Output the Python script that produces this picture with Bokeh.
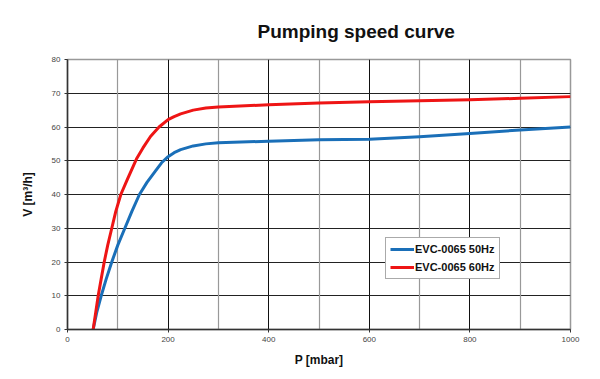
from bokeh.plotting import figure
from bokeh.models import (Range1d, FixedTicker, Grid, Legend, LegendItem, Title)
from bokeh.embed import file_html
from bokeh.resources import INLINE

# Data
p_50 = [51, 58, 67, 77, 88, 100, 114, 128, 143, 158, 175, 187, 200, 212, 225, 250, 275, 300, 400, 500, 600, 700, 800, 900, 1000]
v_50 = [0, 5, 10, 15, 20, 25, 30, 35, 40, 43.6, 47.0, 49.4, 51.2, 52.4, 53.3, 54.4, 55.0, 55.3, 55.8, 56.2, 56.4, 57.1, 58.1, 59.1, 60.0]
p_60 = [51, 56, 61, 67, 73, 80, 88, 96, 106, 119, 137, 150, 165, 182, 200, 212, 225, 250, 275, 300, 400, 500, 600, 700, 800, 900, 1000]
v_60 = [0, 5, 10, 15, 20, 25, 30, 35, 40, 44.5, 50.5, 53.8, 57.2, 60, 62.2, 63.1, 63.9, 65.0, 65.6, 65.9, 66.6, 67.1, 67.5, 67.8, 68.1, 68.5, 69.0]
series_names = ["EVC-0065 50Hz", "EVC-0065 60Hz"]
x_ticks = [0, 200, 400, 600, 800, 1000]
y_ticks = [0, 10, 20, 30, 40, 50, 60, 70, 80]
title_text = "Pumping speed curve"

p = figure(width=596, height=375, output_backend="svg", toolbar_location=None,
           x_range=Range1d(0, 1000), y_range=Range1d(0, 80),
           min_border_left=67, min_border_right=26, min_border_top=59, min_border_bottom=46)

p.title = Title(text=title_text, align="left", offset=190, standoff=35,
                text_font="Liberation Sans", text_font_size="19px", text_font_style="bold",
                text_color="#111111")

p.outline_line_color = "#999999"
p.outline_line_width = 1.5
p.background_fill_color = "white"
p.border_fill_color = "white"

# grids
p.xgrid.ticker = FixedTicker(ticks=[200, 400, 600, 800])
p.xgrid.grid_line_color = "#111111"
p.xgrid.grid_line_width = 1
p.ygrid.ticker = FixedTicker(ticks=[10, 20, 30, 40, 50, 60, 70, 80])
p.ygrid.grid_line_color = "#222222"
p.ygrid.grid_line_width = 1.2
g2 = Grid(dimension=0, ticker=FixedTicker(ticks=[100, 300, 500, 700, 900]),
          grid_line_color="#999999", grid_line_width=1.2)
p.add_layout(g2)

for ax in (p.xaxis[0], p.yaxis[0]):
    ax.axis_line_color = "#333333"
    ax.axis_line_width = 1.5
    ax.major_tick_line_color = "#333333"
    ax.major_tick_out = 3
    ax.major_tick_in = 0
    ax.minor_tick_line_color = None
    ax.major_label_text_font = "Liberation Sans"
    ax.major_label_text_font_size = "8px"
    ax.major_label_text_color = "#444444"
    ax.axis_label_text_font = "Liberation Sans"
    ax.axis_label_text_font_size = "12px"
    ax.axis_label_text_font_style = "bold"
    ax.axis_label_text_color = "#111111"

p.xaxis.ticker = FixedTicker(ticks=x_ticks)
p.yaxis.ticker = FixedTicker(ticks=y_ticks)
p.xaxis.axis_label = "P [mbar]"
p.yaxis.axis_label = "V [m³/h]"
p.xaxis.axis_label_standoff = 8
p.yaxis.axis_label_standoff = 14
p.xaxis.major_label_standoff = 4
p.yaxis.major_label_standoff = 4

r1 = p.line(p_50, v_50, line_color="#1a6fb8", line_width=3, line_join="round")
r2 = p.line(p_60, v_60, line_color="#ee1515", line_width=3, line_join="round")

legend = Legend(items=[LegendItem(label=series_names[0], renderers=[r1]),
                       LegendItem(label=series_names[1], renderers=[r2])],
                location=(318, 50))
legend.label_text_font = "Liberation Sans"
legend.label_text_font_size = "11px"
legend.label_text_font_style = "bold"
legend.label_text_color = "#111111"
legend.border_line_color = "#555555"
legend.border_line_width = 1
legend.background_fill_color = "white"
legend.background_fill_alpha = 1
legend.glyph_width = 24
legend.glyph_height = 14
legend.label_standoff = 1
legend.padding = 4
legend.spacing = 4
legend.margin = 0
legend.label_height = 14
p.add_layout(legend)

open("out.html", "w").write(file_html(p, INLINE))
